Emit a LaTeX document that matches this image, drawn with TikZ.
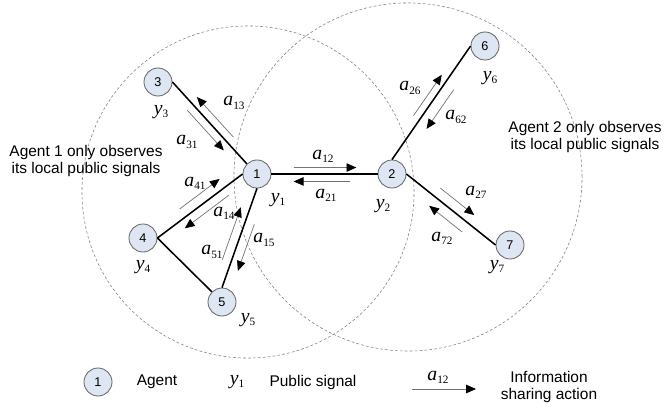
\documentclass[tikz,border=0pt]{standalone}
\usepackage{fontspec}
\setmainfont{Liberation Sans}
\newfontfamily\serif{Liberation Serif}
\usetikzlibrary{arrows.meta, calc}

\definecolor{agentfill}{RGB}{222,230,243}

% italic symbol with a small upright index
\newcommand{\sig}[2]{{\serif\fontsize{14}{16}\selectfont\textit{#1}\raisebox{-0.35ex}{\fontsize{8}{9}\selectfont #2}}}

\begin{document}
\begin{tikzpicture}[
    x=0.025cm, y=-0.025cm,
    every node/.style={font=\fontsize{11}{12.5}\selectfont},
    agent/.style={circle, draw=black!60, line width=0.6pt, fill=agentfill, minimum size=0.7cm, inner sep=0pt, font=\fontsize{9}{10}\selectfont},
    zone/.style={circle, draw=black!50, line width=0.4pt, dash pattern=on 2pt off 1.5pt, inner sep=0pt},
    link/.style={line width=1.1pt},
    act/.style={-{Triangle[length=7pt, width=6pt, color=black]}, draw=black!55, line width=0.5pt},
    sym/.style={inner sep=0pt}
]
\useasboundingbox (0,0) rectangle (664,407);

% Observation zones
\node (zone1) [zone, minimum size=8.3cm] at (248,192) {};
\node (zone2) [zone, minimum size=8.7cm] at (408,177) {};

% Agents
\node (n1) [agent] at (257,174) {1};
\node (n2) [agent] at (392,174) {2};
\node (n3) [agent] at (158,82) {3};
\node (n4) [agent] at (143,238) {4};
\node (n5) [agent] at (222,302) {5};
\node (n6) [agent] at (485,46) {6};
\node (n7) [agent] at (510,245) {7};

% Links
\draw [link] (n3.east) -- (n1.north west);
\draw [link] (n4.east) -- (n1.west);
\draw [link] (n4.east) -- (n5.north west);
\draw [link] (n5.north) -- (n1.south);
\draw [link] (n1.east) -- (n2.west);
\draw [link] (n2.north) -- (n6.west);
\draw [link] (n2.east) -- (n7.west);

% Information sharing actions
\draw [act] ($(n3.east)!0.74!(n1.north west)!5.7pt!90:(n1.north west)$) -- ($(n3.east)!0.25!(n1.north west)!5.7pt!90:(n1.north west)$);
\draw [act] ($(n3.east)!0.28!(n1.north west)!-5.7pt!90:(n1.north west)$) -- ($(n3.east)!0.77!(n1.north west)!-5.7pt!90:(n1.north west)$);
\draw [act] ($(n1.east)!0.21!(n2.west)!4.6pt!90:(n2.west)$) -- ($(n1.east)!0.80!(n2.west)!4.6pt!90:(n2.west)$);
\draw [act] ($(n1.east)!0.74!(n2.west)!-5.3pt!90:(n2.west)$) -- ($(n1.east)!0.21!(n2.west)!-5.3pt!90:(n2.west)$);
\draw [act] ($(n4.east)!0.33!(n1.west)!7pt!90:(n1.west)$) -- ($(n4.east)!0.80!(n1.west)!7pt!90:(n1.west)$);
\draw [act] ($(n4.east)!0.78!(n1.west)!-6.2pt!90:(n1.west)$) -- ($(n4.east)!0.26!(n1.west)!-6.2pt!90:(n1.west)$);
\draw [act] ($(n5.north)!0.25!(n1.south)!6.4pt!90:(n1.south)$) -- ($(n5.north)!0.78!(n1.south)!6.4pt!90:(n1.south)$);
\draw [act] ($(n5.north)!0.67!(n1.south)!-6.7pt!90:(n1.south)$) -- ($(n5.north)!0.20!(n1.south)!-6.7pt!90:(n1.south)$);
\draw [act] ($(n2.north)!0.35!(n6.west)!5.2pt!90:(n6.west)$) -- ($(n2.north)!0.71!(n6.west)!5.2pt!90:(n6.west)$);
\draw [act] ($(n2.north)!0.67!(n6.west)!-7.8pt!90:(n6.west)$) -- ($(n2.north)!0.325!(n6.west)!-7.8pt!90:(n6.west)$);
\draw [act] ($(n2.east)!0.31!(n7.west)!7.2pt!90:(n7.west)$) -- ($(n2.east)!0.69!(n7.west)!7.2pt!90:(n7.west)$);
\draw [act] ($(n2.east)!0.70!(n7.west)!-7.6pt!90:(n7.west)$) -- ($(n2.east)!0.33!(n7.west)!-7.6pt!90:(n7.west)$);

% Action labels
\node (l13) [sym] at (234,103) {\sig{a}{13}};
\node (l31) [sym] at (187,142) {\sig{a}{31}};
\node (l12) [sym] at (323,156) {\sig{a}{12}};
\node (l21) [sym] at (326,195) {\sig{a}{21}};
\node (l41) [sym] at (195,183) {\sig{a}{41}};
\node (l14) [sym] at (224,213) {\sig{a}{14}};
\node (l51) [sym] at (212,252) {\sig{a}{51}};
\node (l15) [sym] at (264,240) {\sig{a}{15}};
\node (l26) [sym] at (410,88) {\sig{a}{26}};
\node (l62) [sym] at (456,117) {\sig{a}{62}};
\node (l27) [sym] at (476,192) {\sig{a}{27}};
\node (l72) [sym] at (442,238) {\sig{a}{72}};

% Public signals
\node (y1) [sym] at (278,200) {\sig{y}{1}};
\node (y2) [sym] at (383,206) {\sig{y}{2}};
\node (y3) [sym] at (161,112) {\sig{y}{3}};
\node (y4) [sym] at (143,267) {\sig{y}{4}};
\node (y5) [sym] at (248,320) {\sig{y}{5}};
\node (y6) [sym] at (490,78) {\sig{y}{6}};
\node (y7) [sym] at (497,267) {\sig{y}{7}};

% Zone notes
\node (note1) [align=center] at (86,161) {Agent 1 only observes\\its local public signals};
\node (note2) [align=center] at (585,137) {Agent 2 only observes\\its local public signals};

% Legend
\node (leg1) [agent] at (98,382) {1};
\node (legagent) at (157,382) {Agent};
\node (legy) [sym] at (237,382) {\sig{y}{1}};
\node (legsignal) at (313,382) {Public signal};
\coordinate (legtail) at (412,389);
\coordinate (leghead) at (476,389);
\draw [act] (legtail) -- (leghead);
\node (lega) [sym] at (438,377) {\sig{a}{12}};
\node (legaction) [align=center] at (549,387) {Information\\sharing action};

\end{tikzpicture}
\end{document}
